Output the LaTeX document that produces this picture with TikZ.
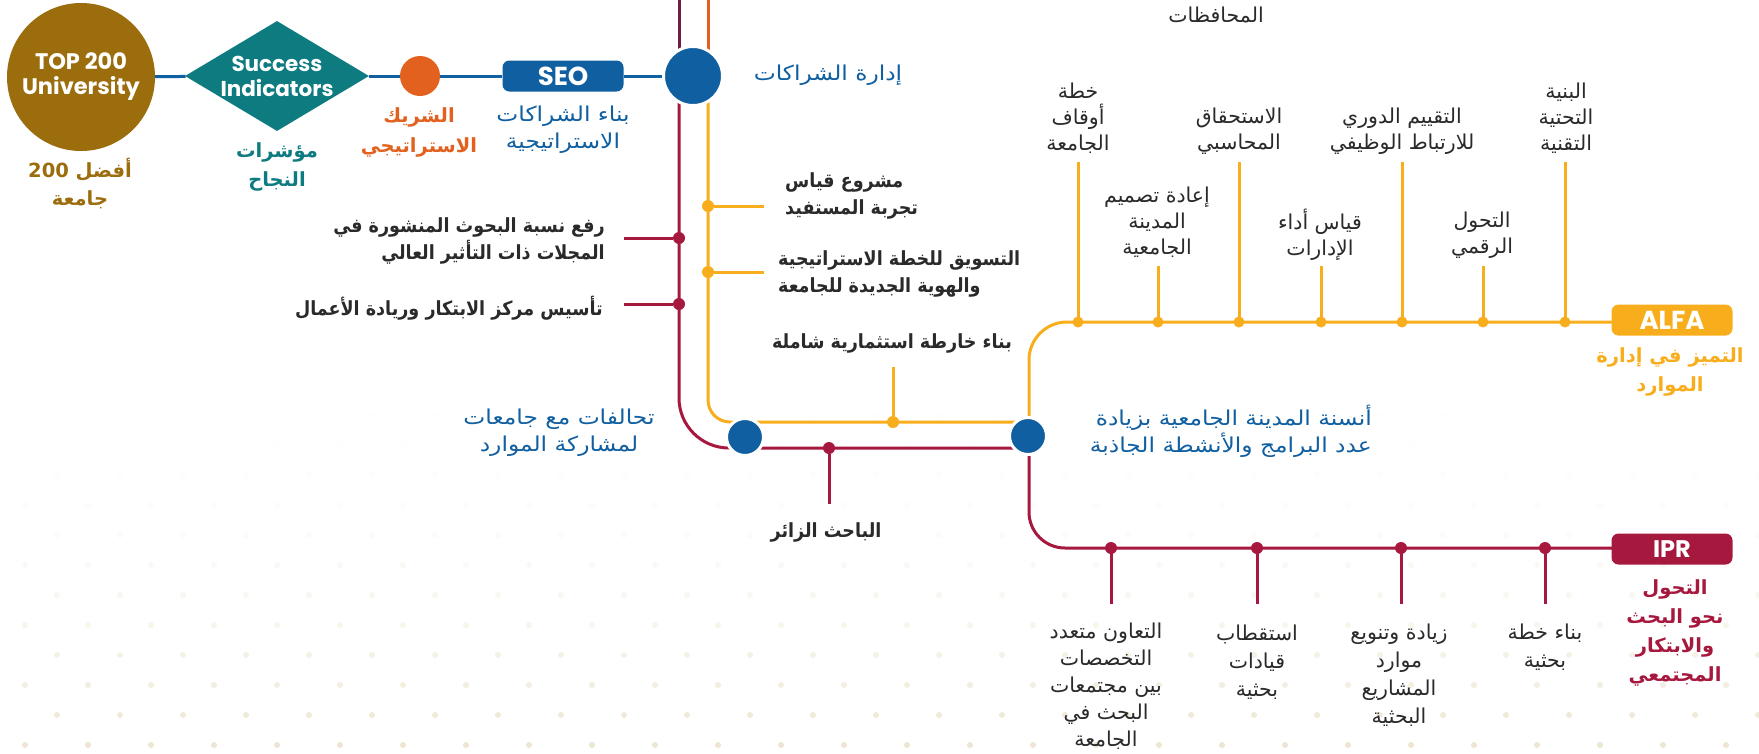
\documentclass[tikz,border=0pt]{standalone}
\usepackage{fontspec}
\usetikzlibrary{shapes.geometric}
\setmainfont{Poppins}
\newfontfamily\arabicfont[Script=Arabic]{DejaVu Sans}
\newfontfamily\arabicwide[Script=Arabic,FakeStretch=1.14]{DejaVu Sans}
\newfontfamily\arabicnarrow[Script=Arabic,FakeStretch=0.9]{DejaVu Sans}
\TeXXeTstate=1
\newcommand\AR[1]{\beginR #1\endR}
\definecolor{brn}{HTML}{9B6D0C}
\definecolor{tea}{HTML}{0E7B80}
\definecolor{org}{HTML}{E2611F}
\definecolor{blu}{HTML}{105FA1}
\definecolor{amb}{HTML}{F8AE1C}
\definecolor{crm}{HTML}{A6183E}
\definecolor{purp}{HTML}{6B1D46}
\definecolor{txt}{HTML}{2A2A2A}
\definecolor{dotc}{HTML}{E4DBBE}
\tikzset{
 ln/.style={line width=3pt},
 adot/.style={circle, fill=amb, inner sep=0pt, minimum size=12pt},
 cdot/.style={circle, fill=crm, inner sep=0pt, minimum size=12pt},
 bigc/.style={circle, fill=blu, draw=white, line width=3pt, inner sep=0pt},
 tagbox/.style={rounded corners=7pt, inner sep=0pt, minimum width=121pt, minimum height=31pt, text=white, font=\bfseries\fontsize{26}{26}\selectfont},
 lbl/.style={inner sep=0pt, align=center, text=txt, font=\arabicfont\fontsize{20.5}{26}\selectfont},
 blbl/.style={inner sep=0pt, align=center, text=txt, font=\arabicnarrow\bfseries\fontsize{19.5}{27}\selectfont},
 bluelbl/.style={lbl, text=blu, font=\arabicwide\fontsize{20.5}{27}\selectfont},
}
\begin{document}
\begin{tikzpicture}[x=1pt,y=-1pt]
\useasboundingbox (0,0) rectangle (1759,753);
\fill[white] (0,0) rectangle (1759,753);
% faint dot pattern
\foreach \k in {0,...,11}{
  \pgfmathtruncatemacro\pct{3+0.55*\k*\k}
  \pgfmathsetmacro\yy{415+30*\k}
  \pgfmathsetmacro\xo{mod(\k,2)==0 ? 57 : 25}
  \foreach \i in {0,...,27}{
    \fill[dotc!\pct!white] (\xo+63*\i,\yy) circle[radius=3pt];
  }
}
% coordinates
\coordinate (pt) at (679,0);
\coordinate (pb) at (679,76);
\coordinate (ot) at (708,0);
\coordinate (ob) at (708,76);
\coordinate (a1) at (708,422);
\coordinate (a2) at (1029,422);
\coordinate (a3) at (1029,322);
\coordinate (a4) at (1612,322);
\coordinate (c1) at (679,448);
\coordinate (c2) at (1029,448);
\coordinate (c3) at (1029,548);
\coordinate (c4) at (1612,548);
% metro lines
\draw[ln,purp] (pt) -- (pb);
\draw[ln,org] (ot) -- (ob);
\draw[ln,amb,rounded corners=22pt] (ob) -- (a1) -- (a2);
\draw[ln,amb,rounded corners=38pt] (a2) -- (a3) -- (a4);
\draw[ln,crm,rounded corners=50pt] (pb) -- (c1) -- (c2);
\draw[ln,crm,rounded corners=36pt] (c2) -- (c3) -- (c4);
% branches on left crimson
\node[cdot] (cb1) at (679,238) {};
\node[cdot] (cb2) at (679,304) {};
\coordinate (cb1e) at (624,238);
\coordinate (cb2e) at (624,304);
\draw[ln,crm] (cb1) -- (cb1e);
\draw[ln,crm] (cb2) -- (cb2e);
% branches on left amber
\node[adot] (ab1) at (708,206) {};
\node[adot] (ab2) at (708,272) {};
\coordinate (ab1e) at (764,206);
\coordinate (ab2e) at (764,272);
\draw[ln,amb] (ab1) -- (ab1e);
\draw[ln,amb] (ab2) -- (ab2e);
\node[adot] (ab3) at (893,422) {};
\coordinate (ab3e) at (893,367);
\draw[ln,amb] (ab3) -- (ab3e);
\node[cdot] (cb3) at (829,448) {};
\coordinate (cb3e) at (829,504);
\draw[ln,crm] (cb3) -- (cb3e);
% ALFA branches
\foreach \n/\x/\t in {1/1078/162, 2/1158/266, 3/1239/162, 4/1321/266, 5/1402/162, 6/1483/266, 7/1565/162}{
  \coordinate (al\n e) at (\x,\t);
  \draw[ln,amb] (\x,322) -- (al\n e);
  \node[adot, minimum size=11pt] (al\n) at (\x,322) {};
}
% IPR branches
\foreach \n/\x in {1/1111, 2/1257, 3/1401, 4/1545}{
  \coordinate (ip\n e) at (\x,604);
  \draw[ln,crm] (\x,548) -- (ip\n e);
  \node[cdot] (ip\n) at (\x,548) {};
}
% top left chain
\node[circle, fill=brn, minimum size=148pt, inner sep=0pt] (top) at (81,77) {};
\node[text=white, font=\bfseries\fontsize{22.5}{25}\selectfont, align=center, inner sep=0pt] (toptxt) at (top) {TOP 200\\University};
\node[diamond, fill=tea, minimum width=184pt, minimum height=110pt, inner sep=0pt, aspect=1.67] (si) at (277,76) {};
\node[text=white, font=\bfseries\fontsize{21.5}{25}\selectfont, align=center, inner sep=0pt] (sitxt) at (si) {Success\\Indicators};
\node[circle, fill=org, minimum size=40pt, inner sep=0pt] (sp) at (420,76) {};
\node[tagbox, fill=blu] (seo) at (563,76) {SEO};
\node[bigc, minimum size=59pt] (hub) at (693,76) {};
\draw[ln,blu] (top) -- (si);
\draw[ln,blu] (si) -- (sp);
\draw[ln,blu] (sp) -- (seo);
\draw[ln,blu] (seo) -- (hub);
% interchange circles
\node[bigc, minimum size=37pt] (j1) at (745,437) {};
\node[bigc, minimum size=37pt] (j2) at (1028,436) {};
% line tags
\node[tagbox, fill=amb] (alfa) at (1672,320) {ALFA};
\node[tagbox, fill=crm, font=\bfseries\fontsize{24}{24}\selectfont] (ipr) at (1672,549) {IPR};
% labels left
\node[blbl, text=brn, font=\arabicfont\bfseries\fontsize{19.5}{28}\selectfont] (l1) at (80,184) {\AR{أفضل \beginL 200\endL}\\\AR{جامعة}};
\node[blbl, text=tea, font=\arabicfont\bfseries\fontsize{19.5}{29}\selectfont] (l2) at (277,167) {\AR{مؤشرات}\\\AR{النجاح}};
\node[blbl, text=org, font=\arabicfont\bfseries\fontsize{19.5}{30}\selectfont] (l3) at (419,132) {\AR{الشريك}\\\AR{الاستراتيجي}};
\node[bluelbl] (l4) at (563,130) {\AR{بناء الشراكات}\\\AR{الاستراتيجية}};
\node[bluelbl] (l5) at (828,75) {\AR{إدارة الشراكات}};
\node[blbl, align=right, anchor=east] (l6) at (605,241) {\AR{رفع نسبة البحوث المنشورة في}\\\AR{المجلات ذات التأثير العالي}};
\node[blbl, anchor=east] (l7) at (603,308) {\AR{تأسيس مركز الابتكار وريادة الأعمال}};
\node[blbl, align=left, anchor=west] (l8) at (785,196) {\AR{مشروع قياس}\\\AR{تجربة المستفيد}};
\node[blbl, align=left, anchor=west] (l9) at (778,274) {\AR{التسويق للخطة الاستراتيجية}\\\AR{والهوية الجديدة للجامعة}};
\node[blbl] (l10) at (892,343) {\AR{بناء خارطة استثمارية شاملة}};
\node[bluelbl] (l11) at (559,433) {\AR{تحالفات مع جامعات}\\\AR{لمشاركة الموارد}};
\node[blbl] (l12) at (826,532) {\AR{الباحث الزائر}};
\node[bluelbl, align=right, anchor=east] (l13) at (1372,431) {\AR{أنسنة المدينة الجامعية بزيادة}\\\AR{عدد البرامج والأنشطة الجاذبة}};
% ALFA labels
\node[lbl] (m0) at (1216,15) {\AR{المحافظات}};
\node[lbl] (m1) at (1078,118) {\AR{خطة}\\\AR{أوقاف}\\\AR{الجامعة}};
\node[lbl] (m2) at (1239,131) {\AR{الاستحقاق}\\\AR{المحاسبي}};
\node[lbl] (m3) at (1402,131) {\AR{التقييم الدوري}\\\AR{للارتباط الوظيفي}};
\node[lbl] (m4) at (1566,118) {\AR{البنية}\\\AR{التحتية}\\\AR{التقنية}};
\node[lbl] (m5) at (1157,222) {\AR{إعادة تصميم}\\\AR{المدينة}\\\AR{الجامعية}};
\node[lbl] (m6) at (1320,235) {\AR{قياس أداء}\\\AR{الإدارات}};
\node[lbl] (m7) at (1482,235) {\AR{التحول}\\\AR{الرقمي}};
\node[blbl, text=amb, font=\arabicfont\bfseries\fontsize{19.5}{29}\selectfont] (m8) at (1670,372) {\AR{التميز في إدارة}\\\AR{الموارد}};
% IPR labels
\node[blbl, text=crm, font=\arabicfont\bfseries\fontsize{19.5}{29}\selectfont] (n0) at (1675,633) {\AR{التحول}\\\AR{نحو البحث}\\\AR{والابتكار}\\\AR{المجتمعي}};
\node[lbl, font=\arabicfont\fontsize{20.5}{27}\selectfont] (n1) at (1106,686) {\AR{التعاون متعدد}\\\AR{التخصصات}\\\AR{بين مجتمعات}\\\AR{البحث في}\\\AR{الجامعة}};
\node[lbl, font=\arabicfont\fontsize{20.5}{28}\selectfont] (n2) at (1257,662) {\AR{استقطاب}\\\AR{قيادات}\\\AR{بحثية}};
\node[lbl, font=\arabicfont\fontsize{20.5}{28}\selectfont] (n3) at (1399,675) {\AR{زيادة وتنويع}\\\AR{موارد}\\\AR{المشاريع}\\\AR{البحثية}};
\node[lbl, font=\arabicfont\fontsize{20.5}{28}\selectfont] (n4) at (1545,647) {\AR{بناء خطة}\\\AR{بحثية}};
\end{tikzpicture}
\end{document}
